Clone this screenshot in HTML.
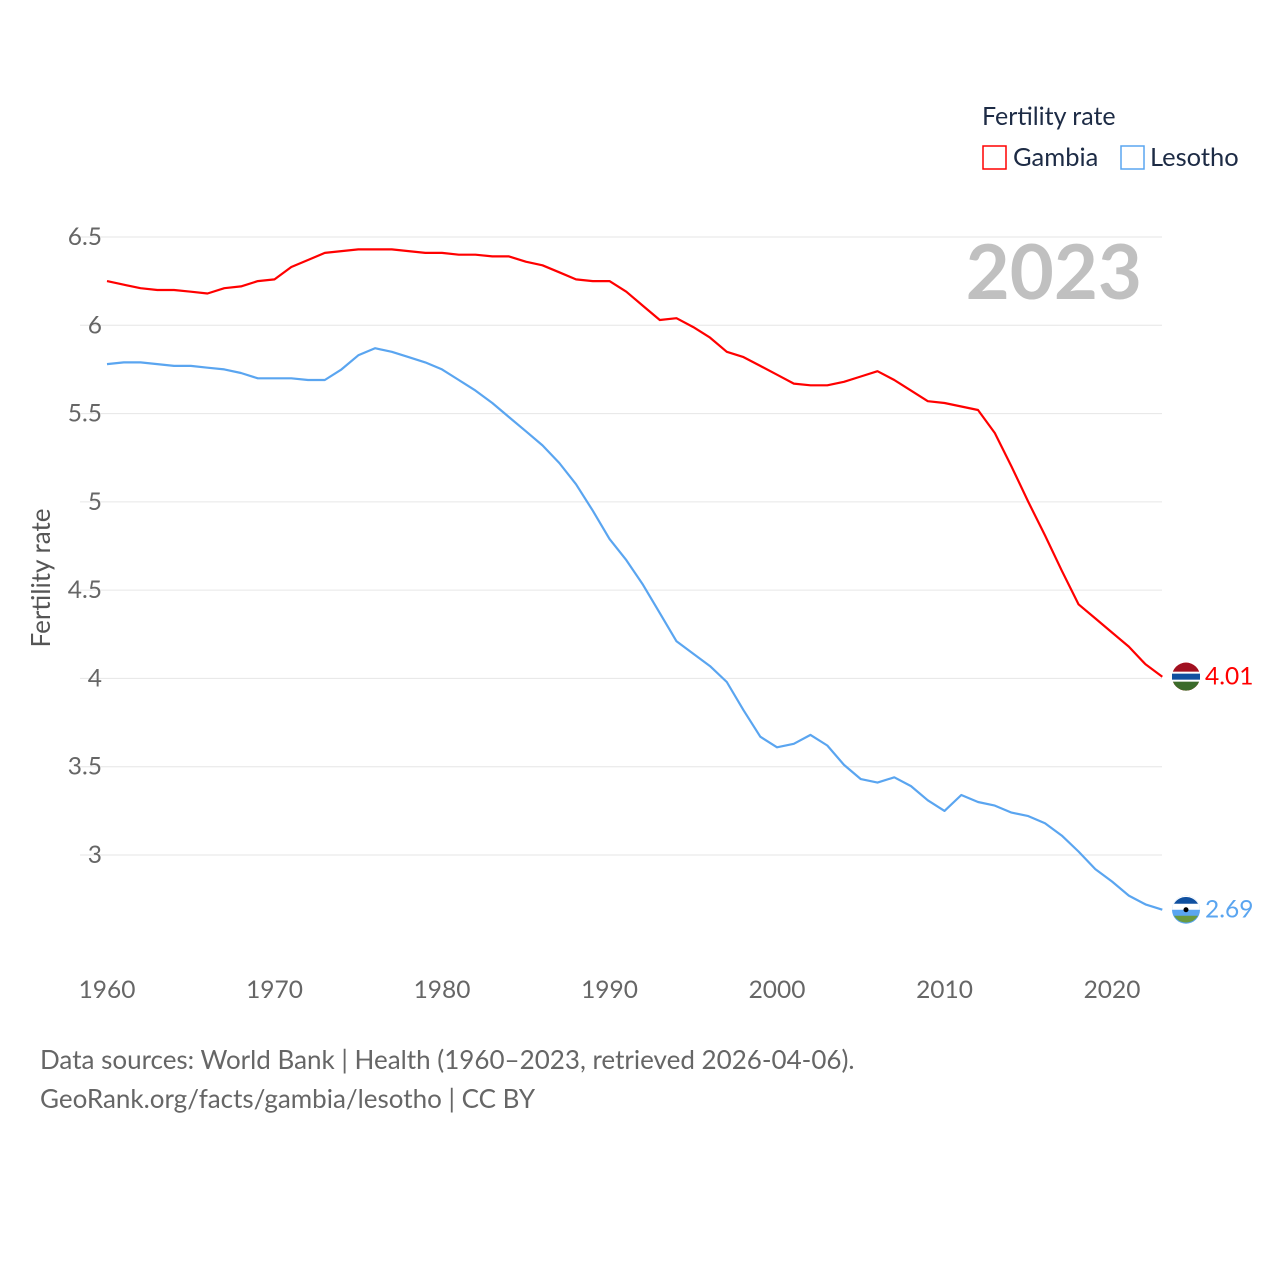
<!DOCTYPE html>
<html><head><meta charset="utf-8"><style>
html,body{margin:0;padding:0;background:#fff;}
body{width:1280px;height:1280px;position:relative;font-family:"Liberation Sans",sans-serif;overflow:hidden;}
svg text{font-family:"Lato","Liberation Sans",sans-serif;}
</style></head><body>
<svg id="chart" width="1280" height="1280" xmlns="http://www.w3.org/2000/svg">
<g id="grid"></g>
<g id="yticks"></g>
<g id="xticks"></g>
<text x="1142" y="299" text-anchor="end" font-size="76" font-weight="bold" fill="#c0c0c0">2023</text>
<text transform="translate(50,578) rotate(-90)" text-anchor="middle" font-size="26" fill="#555">Fertility rate</text>
<g id="series"></g>
<text x="982" y="125" font-size="25" fill="#1d2b45">Fertility rate</text>
<rect x="983" y="146" width="23" height="23" fill="none" stroke="#ff0000" stroke-width="1.5"/>
<text x="1013" y="166" font-size="25.5" fill="#1d2b45">Gambia</text>
<rect x="1121" y="146" width="23" height="23" fill="none" stroke="#5aa5f0" stroke-width="1.5"/>
<text x="1150" y="166" font-size="25.5" fill="#1d2b45">Lesotho</text>
<text x="40" y="1069" font-size="26" fill="#666">Data sources: World Bank | Health (1960–2023, retrieved 2026-04-06).</text>
<text x="40" y="1108" font-size="26" fill="#666">GeoRank.org/facts/gambia/lesotho | CC BY</text>
</svg>
<script>
const years = [];
for (let y = 1960; y <= 2023; y++) years.push(y);
const gambia = [6.25,6.23,6.21,6.20,6.20,6.19,6.18,6.21,6.22,6.25,6.26,6.33,6.37,6.41,6.42,6.43,6.43,6.43,6.42,6.41,6.41,6.40,6.40,6.39,6.39,6.36,6.34,6.30,6.26,6.25,6.25,6.19,6.11,6.03,6.04,5.99,5.93,5.85,5.82,5.77,5.72,5.67,5.66,5.66,5.68,5.71,5.74,5.69,5.63,5.57,5.56,5.54,5.52,5.39,5.20,5.00,4.81,4.61,4.42,4.34,4.26,4.18,4.08,4.01];
const lesotho = [5.78,5.79,5.79,5.78,5.77,5.77,5.76,5.75,5.73,5.70,5.70,5.70,5.69,5.69,5.75,5.83,5.87,5.85,5.82,5.79,5.75,5.69,5.63,5.56,5.48,5.40,5.32,5.22,5.10,4.95,4.79,4.67,4.53,4.37,4.21,4.14,4.07,3.98,3.82,3.67,3.61,3.63,3.68,3.62,3.51,3.43,3.41,3.44,3.39,3.31,3.25,3.34,3.30,3.28,3.24,3.22,3.18,3.11,3.02,2.92,2.85,2.77,2.72,2.69];
const yTicks = [3,3.5,4,4.5,5,5.5,6,6.5];
const yTickLabels = ["3","3.5","4","4.5","5","5.5","6","6.5"];
const xTicks = [1960,1970,1980,1990,2000,2010,2020];

const NS = "http://www.w3.org/2000/svg";
const xs = y => 107 + (y - 1960) * (1005 / 60);
const ys = v => 237 + (6.5 - v) * 176.57;
function mk(tag, attrs, parent, text) {
  const e = document.createElementNS(NS, tag);
  for (const k in attrs) e.setAttribute(k, attrs[k]);
  if (text !== undefined) e.textContent = text;
  parent.appendChild(e);
  return e;
}
const grid = document.getElementById('grid'), yt = document.getElementById('yticks'), xt = document.getElementById('xticks'), ser = document.getElementById('series');
yTicks.forEach((v, i) => {
  const l = mk('line', {x1: 80, x2: 1162, y1: ys(v), y2: ys(v), stroke: '#e6e6e6', 'stroke-width': 1}, grid);
  
  
  const t = mk('text', {x: 102, y: ys(v) + 8, 'text-anchor': 'end', 'font-size': 24.5, fill: '#666'}, yt, yTickLabels[i]);
  
  
});
xTicks.forEach(y => {
  const t = mk('text', {x: xs(y), y: 998, 'text-anchor': 'middle', 'font-size': 24.5, fill: '#666'}, xt, String(y));
  
  
});
function line(data, color, name) {
  const d = data.map((v, i) => (i ? 'L' : 'M') + xs(years[i]).toFixed(1) + ',' + ys(v).toFixed(1)).join('');
  const p = mk('path', {d: d, fill: 'none', stroke: color, 'stroke-width': 2.2, 'stroke-linejoin': 'round'}, ser);
  
  
  const last = data[data.length - 1];
  const cy = ys(last);
  const c = mk('circle', {cx: 1186, cy: cy, r: 14, fill: color}, ser);
  
  
  const t = mk('text', {x: 1205, y: cy + 8, 'font-size': 24.5, fill: color}, ser, last.toFixed(2));
  
  
  return cy;
}
const gy = line(gambia, '#ff0000', 'gambia');
const ly = line(lesotho, '#5aa5f0', 'lesotho');
let r = mk('path', {d: `M1172,${gy}a14,14 0 0 1 28,0z`, fill: '#a01020'}, ser);
r = mk('path', {d: `M1172,${gy}a14,14 0 0 0 28,0z`, fill: '#3b6b2a'}, ser);
r = mk('rect', {x: 1172, y: gy - 5, width: 28, height: 10, fill: '#fff'}, ser);
r = mk('rect', {x: 1172, y: gy - 3, width: 28, height: 6, fill: '#1050a0'}, ser);
r = mk('path', {d: `M1172,${ly}a14,14 0 0 1 28,0z`, fill: '#fff'}, ser);
r = mk('path', {d: `M1174,${ly - 6}a14,14 0 0 1 24,0z`, fill: '#1050a0'}, ser);
r = mk('path', {d: `M1174,${ly + 6}a14,14 0 0 0 24,0z`, fill: '#6a9a40'}, ser);
r = mk('circle', {cx: 1186, cy: ly, r: 2.5, fill: '#000'}, ser);
</script>
</body></html>
